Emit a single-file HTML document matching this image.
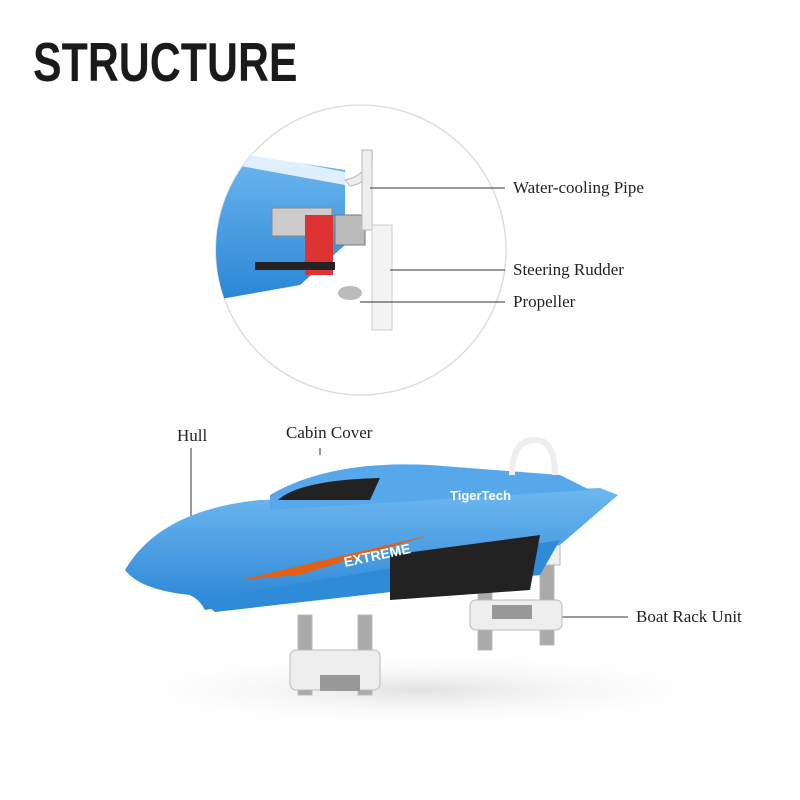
<!DOCTYPE html>
<html><head><meta charset="utf-8"><style>
html,body{margin:0;padding:0;background:#fff;}
.w{position:relative;width:800px;height:800px;overflow:hidden;background:#fff;}
.t{position:absolute;left:33px;top:30px;font-family:"Liberation Sans",sans-serif;font-weight:bold;font-size:55px;color:#1a1a1a;transform:scaleX(0.78);transform-origin:0 0;white-space:nowrap;}
.l{position:absolute;font-family:"Liberation Serif",serif;font-size:17px;color:#222;}
</style></head><body><div class="w">
<svg width="800" height="800" style="position:absolute;left:0;top:0">
<defs>
<radialGradient id="sh" cx="0.5" cy="0.5" r="0.5"><stop offset="0" stop-color="#e2e2e2"/><stop offset="1" stop-color="#fff" stop-opacity="0"/></radialGradient>
<clipPath id="cc"><circle cx="361" cy="250" r="145"/></clipPath>
<linearGradient id="bl" x1="0" y1="0" x2="0" y2="1"><stop offset="0" stop-color="#6fb8ef"/><stop offset="1" stop-color="#2a86d6"/></linearGradient>
</defs>
<ellipse cx="420" cy="690" rx="330" ry="40" fill="url(#sh)"/>
<circle cx="361" cy="250" r="145" fill="#fff" stroke="#ddd" stroke-width="1.5"/>
<g clip-path="url(#cc)">
<path d="M215 150 L345 170 L345 245 L300 285 L215 300 Z" fill="url(#bl)"/>
<path d="M235 150 L345 172 L345 185 L235 165 Z" fill="#fff" opacity="0.8"/>
<rect x="272" y="208" width="60" height="28" fill="#ccc" stroke="#888"/>
<rect x="305" y="215" width="28" height="60" fill="#d33"/>
<rect x="255" y="262" width="80" height="8" fill="#222"/>
<rect x="335" y="215" width="30" height="30" fill="#bbb" stroke="#777"/>
<path d="M345 180 Q370 175 368 150 L372 150 Q375 182 350 186 Z" fill="#eee" stroke="#bbb"/>
<rect x="362" y="150" width="10" height="80" fill="#eee" stroke="#bbb"/>
<rect x="372" y="225" width="20" height="105" fill="#f3f3f3" stroke="#ccc"/>
<ellipse cx="350" cy="293" rx="12" ry="7" fill="#bbb"/>
</g>
<g stroke="#333" stroke-width="1" fill="none">
<line x1="370" y1="188" x2="505" y2="188"/>
<line x1="390" y1="270" x2="505" y2="270"/>
<line x1="360" y1="302" x2="505" y2="302"/>
<line x1="191" y1="448" x2="191" y2="528"/>
<line x1="320" y1="448" x2="320" y2="455"/>
<line x1="560" y1="617" x2="628" y2="617"/>
</g>
<g fill="#eee" stroke="#bbb">
<rect x="298" y="615" width="14" height="80" fill="#aaa"/>
<rect x="358" y="615" width="14" height="80" fill="#aaa"/>
<rect x="478" y="575" width="14" height="75" fill="#aaa"/>
<rect x="540" y="565" width="14" height="80" fill="#aaa"/>
<rect x="290" y="650" width="90" height="40" rx="6"/>
<rect x="470" y="600" width="92" height="30" rx="6"/>
<rect x="530" y="540" width="30" height="25"/>
</g>
<rect x="320" y="675" width="40" height="16" fill="#999"/>
<rect x="492" y="605" width="40" height="14" fill="#999"/>
<path d="M125 570 Q160 510 260 500 L600 488 L618 495 L560 545 L205 610 Q200 600 190 595 Q140 590 125 570 Z" fill="url(#bl)"/>
<path d="M200 600 L560 540 L540 575 L215 612 Z" fill="#2f8ad8"/>
<path d="M390 555 L540 535 L530 590 L390 600 Z" fill="#222"/>
<path d="M270 495 Q330 460 430 465 L560 475 L590 490 L270 510 Z" fill="#57a8ea"/>
<path d="M278 500 Q300 480 380 478 L370 500 Z" fill="#222"/>
<path d="M240 580 L430 535 L300 575 Z" fill="#e0601a"/>
<text x="345" y="567" font-family="Liberation Sans,sans-serif" font-weight="bold" font-size="14" fill="#fff" transform="rotate(-12 345 567)">EXTREME</text>
<text x="450" y="500" font-family="Liberation Sans,sans-serif" font-weight="bold" font-size="13" fill="#fff">TigerTech</text>
<path d="M512 475 Q512 440 535 440 Q555 440 555 475" fill="none" stroke="#eee" stroke-width="6"/>
</svg>
<div class="t">STRUCTURE</div>
<div class="l" style="left:513px;top:178px">Water-cooling Pipe</div>
<div class="l" style="left:513px;top:260px">Steering Rudder</div>
<div class="l" style="left:513px;top:292px">Propeller</div>
<div class="l" style="left:177px;top:426px">Hull</div>
<div class="l" style="left:286px;top:423px">Cabin Cover</div>
<div class="l" style="left:636px;top:607px">Boat Rack Unit</div>
</div></body></html>
